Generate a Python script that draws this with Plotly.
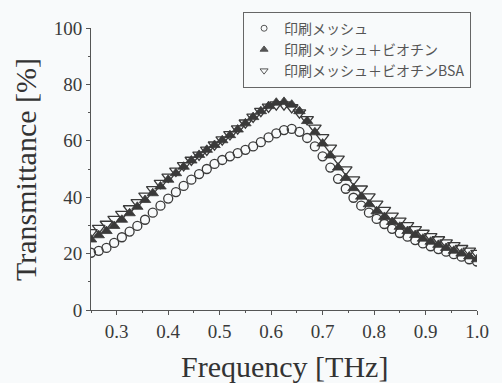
import plotly.graph_objects as go

freq = [0.250, 0.265, 0.280, 0.295, 0.310, 0.325, 0.340, 0.355, 0.370, 0.385,
        0.400, 0.415, 0.430, 0.445, 0.460, 0.475, 0.490, 0.505, 0.520, 0.535,
        0.550, 0.565, 0.580, 0.595, 0.610, 0.625, 0.640, 0.655, 0.670, 0.685,
        0.700, 0.715, 0.730, 0.745, 0.760, 0.775, 0.790, 0.805, 0.820, 0.835,
        0.850, 0.865, 0.880, 0.895, 0.910, 0.925, 0.940, 0.955, 0.970, 0.985, 1.000]

mesh = [20.3, 21.0, 22.0, 23.8, 25.8, 27.8, 29.8, 32.0, 34.5, 37.0,
        39.5, 41.8, 44.0, 46.2, 48.2, 50.0, 51.8, 53.2, 54.5, 55.6,
        56.8, 58.0, 59.5, 61.2, 62.6, 63.8, 64.2, 63.2, 61.0, 58.0,
        54.5, 50.5, 46.5, 43.0, 39.8, 37.0, 34.5, 32.3, 30.5, 28.8,
        27.3, 26.0, 24.8, 23.6, 22.6, 21.6, 20.7, 19.8, 18.9, 18.0, 17.2]

mesh_biotin = [25.0, 26.5, 28.0, 29.8, 32.0, 34.3, 36.6, 39.0, 41.4, 43.8,
               46.2, 48.5, 50.8, 53.0, 55.0, 56.8, 58.5, 60.2, 62.0, 64.0,
               66.2, 68.4, 70.5, 72.3, 73.5, 73.8, 72.8, 70.5, 67.0, 63.0,
               59.0, 54.8, 50.5, 46.8, 43.2, 40.2, 37.5, 35.0, 33.0, 31.2,
               29.5, 28.0, 26.6, 25.3, 24.2, 23.1, 22.0, 21.0, 20.0, 19.0, 18.0]

mesh_biotin_bsa = [27.5, 29.0, 30.5, 32.2, 34.0, 36.0, 38.2, 40.5, 42.8, 45.0,
                   47.2, 49.3, 51.3, 53.2, 55.0, 56.8, 58.6, 60.4, 62.3, 64.3,
                   66.4, 68.5, 70.5, 72.0, 72.8, 72.8, 71.8, 70.0, 67.6, 64.6,
                   61.2, 57.5, 53.6, 49.8, 46.2, 43.0, 40.2, 37.6, 35.4, 33.4,
                   31.6, 30.0, 28.6, 27.3, 26.1, 25.0, 23.9, 22.9, 21.9, 21.0, 20.2]

names = ["印刷メッシュ", "印刷メッシュ＋ビオチン", "印刷メッシュ＋ビオチンBSA"]
x_ticks = [0.3, 0.4, 0.5, 0.6, 0.7, 0.8, 0.9, 1.0]
x_tick_labels = ["0.3", "0.4", "0.5", "0.6", "0.7", "0.8", "0.9", "1.0"]
y_ticks = [0, 20, 40, 60, 80, 100]
x_title = "Frequency [THz]"
y_title = "Transmittance [%]"

ink = "#3a3a3a"
series = [mesh, mesh_biotin, mesh_biotin_bsa]
symbols = ["circle-open", "triangle-up", "triangle-down-open"]
sizes = [9, 10, 11]
leg_sizes = [6, 7, 7]
widths = [1.3, 0.8, 1.3]

fig = go.Figure()
for i in range(3):
    fig.add_trace(go.Scatter(x=freq, y=series[i], mode="markers", name=names[i],
                             showlegend=False,
                             marker=dict(symbol=symbols[i], size=sizes[i], color=ink,
                                         line=dict(width=widths[i], color=ink))))
for i in range(3):
    fig.add_trace(go.Scatter(x=[None], y=[None], mode="markers", name=names[i],
                             showlegend=True,
                             marker=dict(symbol=symbols[i], size=leg_sizes[i], color="#555555",
                                         line=dict(width=1, color="#555555"))))

serif = "'Liberation Serif', serif"
fig.update_layout(
    width=502, height=383,
    margin=dict(l=91, r=25, t=25, b=73),
    paper_bgcolor="#f8fafb", plot_bgcolor="#f8fafb",
    font=dict(family=serif, color="#3a3a3a"),
    showlegend=True,
    legend=dict(x=0.394, y=1.058, xanchor="left", yanchor="top",
                bordercolor="#666666", borderwidth=1, bgcolor="#f8fafb",
                font=dict(family="Noto Sans CJK JP", size=14, color="#555555"),
                tracegroupgap=0),
    annotations=[
        dict(text=x_title, xref="paper", yref="paper", x=0.5, y=-0.2,
             xanchor="center", yanchor="middle", showarrow=False,
             font=dict(family=serif, size=30, color="#333333")),
        dict(text=y_title, xref="paper", yref="paper", x=-0.171, y=0.5,
             xanchor="center", yanchor="middle", showarrow=False, textangle=-90,
             font=dict(family=serif, size=30, color="#333333")),
    ],
)
fig.update_xaxes(range=[0.25, 1.0], tickvals=x_ticks, ticktext=x_tick_labels,
                 automargin=False,
                 showgrid=False, zeroline=False, showline=True, linecolor="#555555",
                 linewidth=1, ticks="outside", ticklen=4, tickcolor="#555555",
                 tickfont=dict(family=serif, size=19, color="#3a3a3a"),
                 minor=dict(dtick=0.05, tick0=0.25, ticks="outside", ticklen=2, tickcolor="#555555"))
fig.update_yaxes(range=[0, 100], tickvals=y_ticks,
                 automargin=False,
                 showgrid=False, zeroline=False, showline=True, linecolor="#555555",
                 linewidth=1, ticks="outside", ticklen=4, tickcolor="#555555",
                 tickfont=dict(family=serif, size=19, color="#3a3a3a"),
                 minor=dict(dtick=10, ticks="outside", ticklen=2, tickcolor="#555555"))
fig.write_html("out.html")
